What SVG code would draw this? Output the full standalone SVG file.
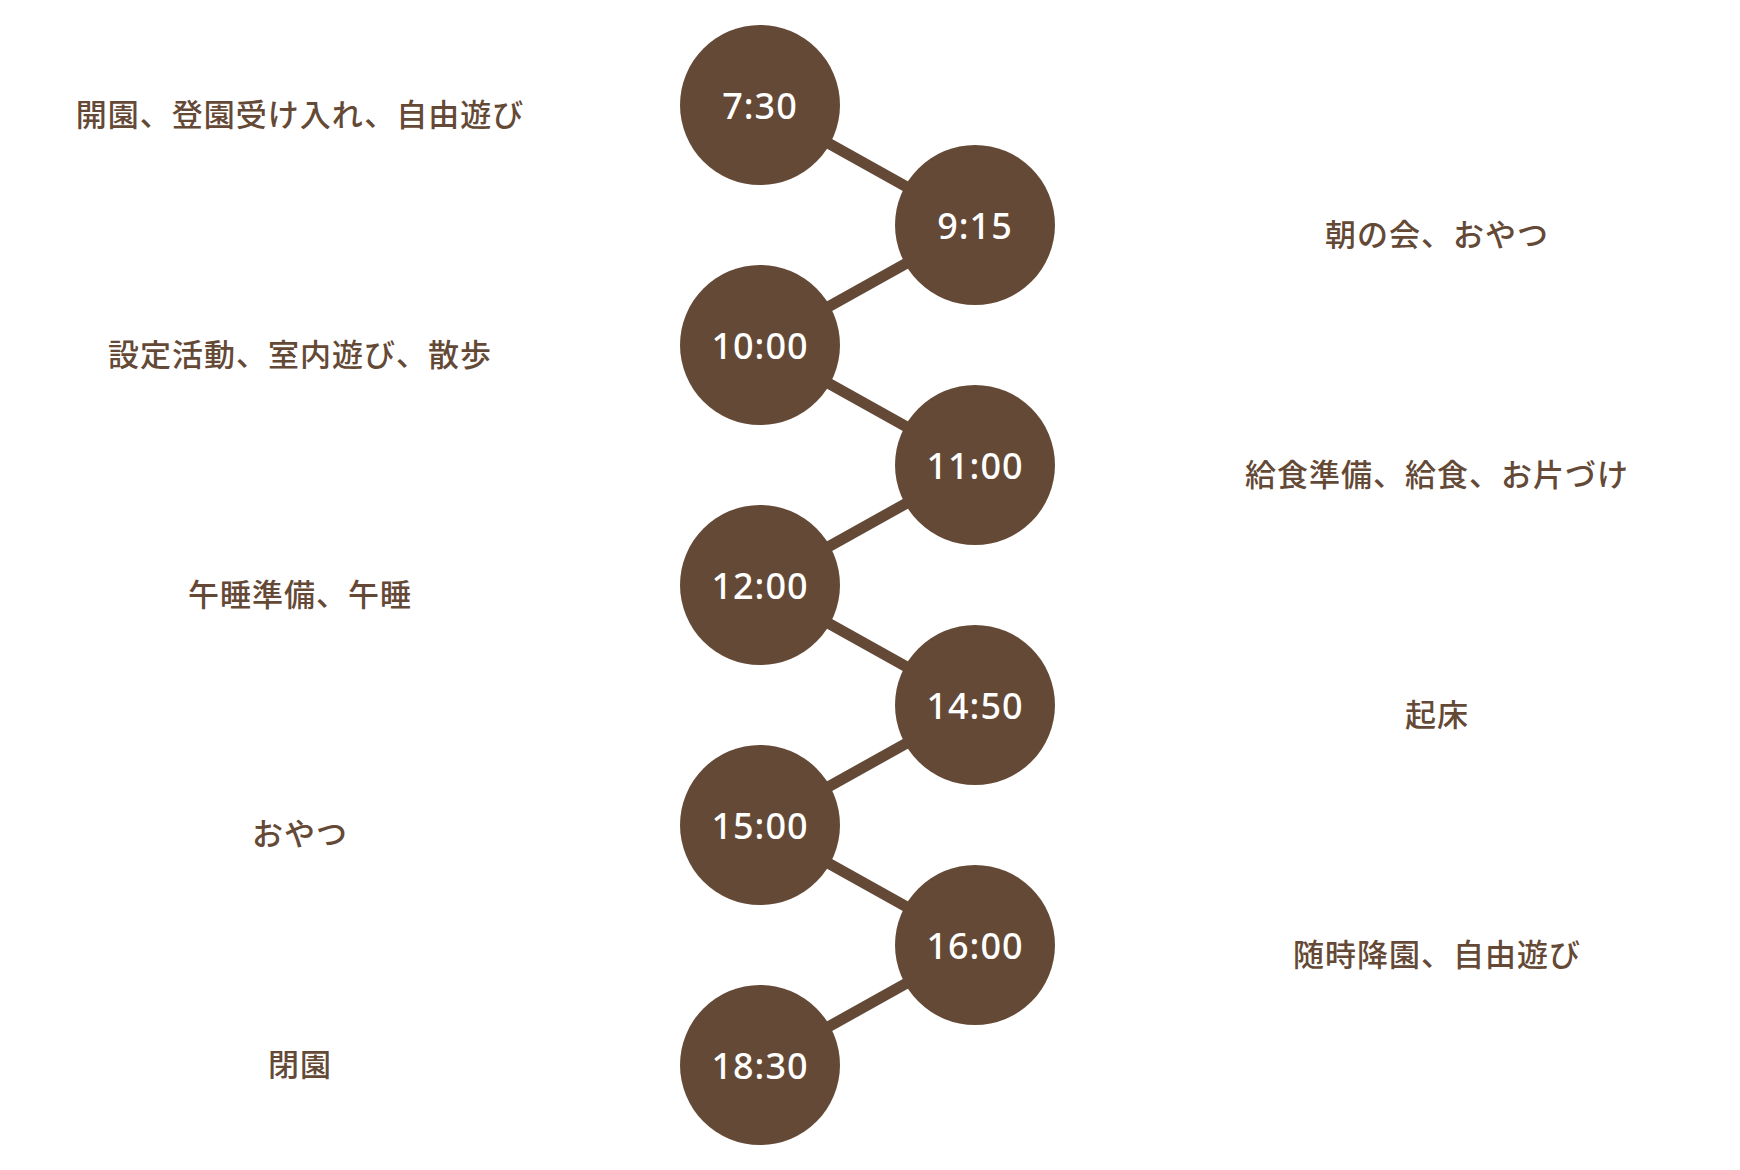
<svg xmlns="http://www.w3.org/2000/svg" width="1740" height="1170" viewBox="0 0 1740 1170">
<style>
.bg{fill:#ffffff}
.link{stroke:#644936;stroke-width:11;fill:none}
.dot{fill:#644936}
.time{fill:#ffffff;font-family:"Noto Sans","Lato",sans-serif;font-size:36px;font-weight:500;letter-spacing:1px;text-anchor:middle;dominant-baseline:central}
.lbl{fill:#644936;font-family:"Noto Sans CJK JP","Noto Sans",sans-serif;font-size:31px;font-weight:500;letter-spacing:1px;text-anchor:middle;dominant-baseline:central}
</style>
<rect class="bg" x="0" y="0" width="1740" height="1170"/>
<g id="connectors">
<line class="link" x1="760" y1="105" x2="975" y2="225"/>
<line class="link" x1="975" y1="225" x2="760" y2="345"/>
<line class="link" x1="760" y1="345" x2="975" y2="465"/>
<line class="link" x1="975" y1="465" x2="760" y2="585"/>
<line class="link" x1="760" y1="585" x2="975" y2="705"/>
<line class="link" x1="975" y1="705" x2="760" y2="825"/>
<line class="link" x1="760" y1="825" x2="975" y2="945"/>
<line class="link" x1="975" y1="945" x2="760" y2="1065"/>
</g>
<g id="n0730"><circle class="dot" cx="760" cy="105" r="80"/><text class="time" x="760" y="105">7:30</text><text class="lbl" x="300" y="112">開園、登園受け入れ、自由遊び</text></g>
<g id="n0915"><circle class="dot" cx="975" cy="225" r="80"/><text class="time" x="975" y="225">9:15</text><text class="lbl" x="1437" y="232">朝の会、おやつ</text></g>
<g id="n1000"><circle class="dot" cx="760" cy="345" r="80"/><text class="time" x="760" y="345">10:00</text><text class="lbl" x="300" y="352">設定活動、室内遊び、散歩</text></g>
<g id="n1100"><circle class="dot" cx="975" cy="465" r="80"/><text class="time" x="975" y="465">11:00</text><text class="lbl" x="1437" y="472">給食準備、給食、お片づけ</text></g>
<g id="n1200"><circle class="dot" cx="760" cy="585" r="80"/><text class="time" x="760" y="585">12:00</text><text class="lbl" x="300" y="592">午睡準備、午睡</text></g>
<g id="n1450"><circle class="dot" cx="975" cy="705" r="80"/><text class="time" x="975" y="705">14:50</text><text class="lbl" x="1437" y="712">起床</text></g>
<g id="n1500"><circle class="dot" cx="760" cy="825" r="80"/><text class="time" x="760" y="825">15:00</text><text class="lbl" x="300" y="831">おやつ</text></g>
<g id="n1600"><circle class="dot" cx="975" cy="945" r="80"/><text class="time" x="975" y="945">16:00</text><text class="lbl" x="1437" y="952">随時降園、自由遊び</text></g>
<g id="n1830"><circle class="dot" cx="760" cy="1065" r="80"/><text class="time" x="760" y="1065">18:30</text><text class="lbl" x="300" y="1062">閉園</text></g>
</svg>
